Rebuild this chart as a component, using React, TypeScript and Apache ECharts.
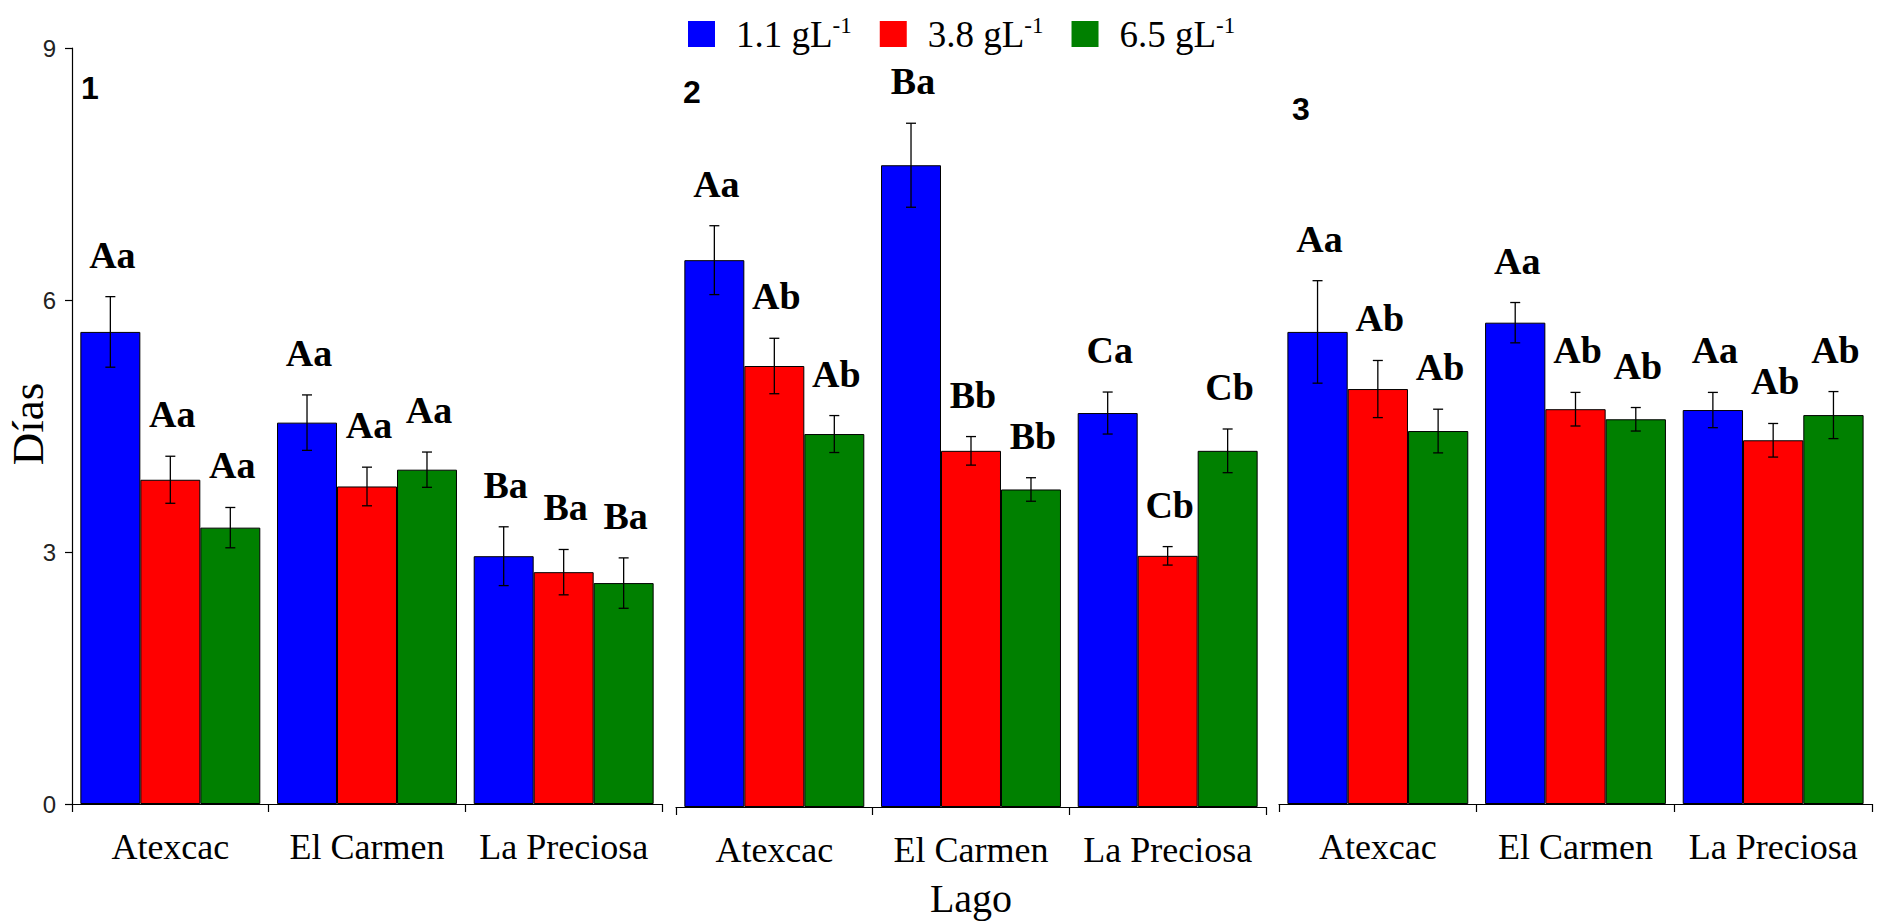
import React, { useEffect, useRef } from "react";
import * as echarts from "echarts";

// ---------- data ----------
const lagos = ["Atexcac", "El Carmen", "La Preciosa"];
const concentrations = ["1.1 gL-1", "3.8 gL-1", "6.5 gL-1"];
const panelNames = ["1", "2", "3"];
const yAxisTitle = "Días";
const xAxisTitle = "Lago";
const yMin = 0;
const yMax = 9;
const yInterval = 3;

// Panel 1
const p1Mean11 = [5.62, 4.54, 2.95];
const p1Mean38 = [3.86, 3.78, 2.76];
const p1Mean65 = [3.29, 3.98, 2.63];
const p1Err11 = [0.42, 0.33, 0.35];
const p1Err38 = [0.28, 0.23, 0.27];
const p1Err65 = [0.24, 0.21, 0.3];
const p1Lab11 = ["Aa", "Aa", "Ba"];
const p1Lab38 = ["Aa", "Aa", "Ba"];
const p1Lab65 = ["Aa", "Aa", "Ba"];

// Panel 2
const p2Mean11 = [6.51, 7.64, 4.69];
const p2Mean38 = [5.25, 4.24, 2.99];
const p2Mean65 = [4.44, 3.78, 4.24];
const p2Err11 = [0.41, 0.5, 0.25];
const p2Err38 = [0.33, 0.17, 0.11];
const p2Err65 = [0.22, 0.14, 0.26];
const p2Lab11 = ["Aa", "Ba", "Ca"];
const p2Lab38 = ["Ab", "Bb", "Cb"];
const p2Lab65 = ["Ab", "Bb", "Cb"];

// Panel 3
const p3Mean11 = [5.62, 5.73, 4.69];
const p3Mean38 = [4.94, 4.7, 4.33];
const p3Mean65 = [4.44, 4.58, 4.63];
const p3Err11 = [0.61, 0.24, 0.21];
const p3Err38 = [0.34, 0.2, 0.2];
const p3Err65 = [0.26, 0.14, 0.28];
const p3Lab11 = ["Aa", "Aa", "Aa"];
const p3Lab38 = ["Ab", "Ab", "Ab"];
const p3Lab65 = ["Ab", "Ab", "Ab"];

// ---------- styles / layout ----------
const COLORS = ["#0000ff", "#ff0000", "#008000"];
const SERIF = '"Liberation Serif", "Times New Roman", serif';
const SANS = '"Liberation Sans", Arial, sans-serif';
const CAT_GAP = 0.085;

const GRIDS = [
  { left: 72, top: 48, width: 590, height: 756 },
  { left: 676, top: 51, width: 590, height: 756 },
  { left: 1279, top: 48, width: 593, height: 756 },
];
const PANEL_LABEL_POS = [
  [81, 72],
  [683, 76],
  [1292, 93],
];

const panels = [
  { means: [p1Mean11, p1Mean38, p1Mean65], errs: [p1Err11, p1Err38, p1Err65], labels: [p1Lab11, p1Lab38, p1Lab65] },
  { means: [p2Mean11, p2Mean38, p2Mean65], errs: [p2Err11, p2Err38, p2Err65], labels: [p2Lab11, p2Lab38, p2Lab65] },
  { means: [p3Mean11, p3Mean38, p3Mean65], errs: [p3Err11, p3Err38, p3Err65], labels: [p3Lab11, p3Lab38, p3Lab65] },
];

function buildOption() {
  const series: any[] = [];
  panels.forEach((p, gi) => {
    p.means.forEach((m, k) => {
      series.push({
        type: "bar",
        name: concentrations[k],
        xAxisIndex: gi,
        yAxisIndex: gi,
        data: m,
        barGap: "0%",
        barCategoryGap: CAT_GAP * 100 + "%",
        itemStyle: { color: COLORS[k], borderColor: "#000", borderWidth: 1 },
        z: 2,
      });
    });
    p.means.forEach((m, k) => {
      const labs = p.labels[k];
      series.push({
        type: "custom",
        name: "err-" + gi + "-" + k,
        xAxisIndex: gi,
        yAxisIndex: gi,
        silent: true,
        z: 5,
        encode: { x: 0, y: 1 },
        data: m.map((v, i) => [i, v, p.errs[k][i]]),
        renderItem: (params: any, api: any) => {
          const ci = api.value(0);
          const mean = api.value(1);
          const err = api.value(2);
          const base = api.coord([ci, mean]);
          const band = api.size([1, 0])[0];
          const bw = (band * (1 - CAT_GAP)) / 3;
          const cx = base[0] + (k - 1) * bw;
          const yt = api.coord([ci, mean + err])[1];
          const yb = api.coord([ci, mean - err])[1];
          const half = 5;
          const st = { stroke: "#000", lineWidth: 1.3 };
          return {
            type: "group",
            children: [
              { type: "line", shape: { x1: cx, y1: yt, x2: cx, y2: yb }, style: st },
              { type: "line", shape: { x1: cx - half, y1: yt, x2: cx + half, y2: yt }, style: st },
              { type: "line", shape: { x1: cx - half, y1: yb, x2: cx + half, y2: yb }, style: st },
              {
                type: "text",
                x: cx + 2,
                y: yt - 23,
                style: {
                  text: labs[params.dataIndex],
                  fontFamily: SERIF,
                  fontWeight: "bold",
                  fontSize: 38,
                  fill: "#000",
                  align: "center",
                  verticalAlign: "bottom",
                },
              },
            ],
          };
        },
      });
    });
  });

  const xAxis = GRIDS.map((_, i) => ({
    gridIndex: i,
    type: "category",
    data: lagos,
    axisLine: { show: true, lineStyle: { color: "#000", width: 1.2 } },
    axisTick: { show: true, length: 8, interval: 0, lineStyle: { color: "#000", width: 1.2 } },
    axisLabel: { interval: 0, fontFamily: SERIF, fontSize: 36, color: "#000", margin: 25 },
    name: i === 1 ? xAxisTitle : "",
    nameLocation: "middle",
    nameGap: 71,
    nameTextStyle: { fontFamily: SERIF, fontSize: 40, color: "#000" },
  }));

  const yAxis = GRIDS.map((_, i) =>
    i === 0
      ? {
          gridIndex: i,
          type: "value",
          min: yMin,
          max: yMax,
          interval: yInterval,
          axisLine: { show: true, lineStyle: { color: "#000", width: 1.2 } },
          axisTick: { show: true, length: 7, lineStyle: { color: "#000", width: 1.2 } },
          axisLabel: { fontFamily: SANS, fontSize: 24, color: "#222", margin: 16 },
          splitLine: { show: false },
        }
      : {
          gridIndex: i,
          type: "value",
          min: yMin,
          max: yMax,
          interval: yInterval,
          show: false,
          splitLine: { show: false },
        }
  );

  const graphic: any[] = panelNames.map((t, i) => ({
    type: "text",
    x: PANEL_LABEL_POS[i][0],
    y: PANEL_LABEL_POS[i][1],
    style: {
      text: t,
      fontFamily: SANS,
      fontWeight: "bold",
      fontSize: 32,
      fill: "#000",
      align: "left",
      verticalAlign: "top",
    },
  }));
  graphic.push({
    type: "text",
    x: 28,
    y: 424,
    rotation: Math.PI / 2,
    style: {
      text: yAxisTitle,
      fontFamily: SERIF,
      fontSize: 45,
      fill: "#000",
      align: "center",
      verticalAlign: "middle",
    },
  });

  return {
    animation: false,
    backgroundColor: "#fff",
    textStyle: { fontFamily: SERIF },
    grid: GRIDS.map((g) => ({ ...g, containLabel: false, outerBoundsMode: "none" })),
    legend: {
      data: concentrations,
      left: 683,
      top: 9,
      icon: "rect",
      itemWidth: 27,
      itemHeight: 26,
      itemGap: 28,
      itemStyle: { borderWidth: 0 },
      formatter: (n: string) => `{a|${n.replace("-1", "")}}{s|-1}`,
      textStyle: {
        color: "#000",
        fontFamily: SERIF,
        fontSize: 37,
        rich: {
          a: { fontFamily: SERIF, fontSize: 37, lineHeight: 40, padding: [0, 0, 0, 16], color: "#000" },
          s: { fontFamily: SERIF, fontSize: 23, lineHeight: 20, verticalAlign: "top", color: "#000" },
        },
      },
    },
    graphic,
    xAxis,
    yAxis,
    series,
  };
}

export default function App() {
  const ref = useRef<HTMLDivElement>(null);
  useEffect(() => {
    if (!ref.current) return;
    const chart = echarts.init(ref.current, undefined, { renderer: "svg" });
    chart.setOption(buildOption() as any);
    return () => chart.dispose();
  }, []);
  return (
    <div
      ref={ref}
      style={{ position: "fixed", left: 0, top: 0, width: 1884, height: 922, background: "#fff" }}
    />
  );
}
